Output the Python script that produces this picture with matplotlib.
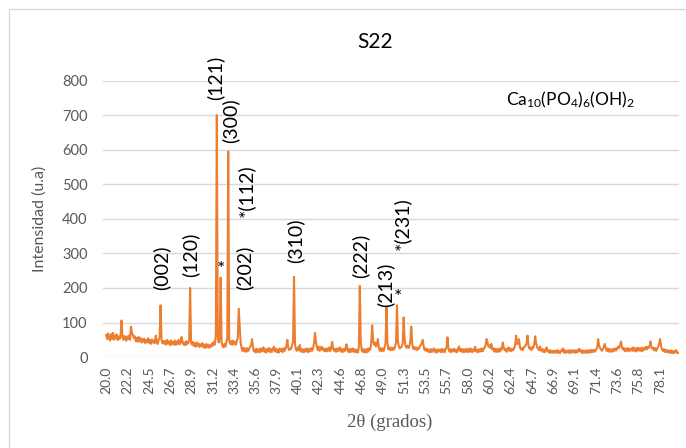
import numpy as np
import matplotlib
matplotlib.use("Agg")
import matplotlib.pyplot as plt
from matplotlib.patches import Rectangle

plt.rcParams['font.family'] = ['Lato', 'DejaVu Sans']
plt.rcParams['mathtext.fontset'] = 'custom'
plt.rcParams['mathtext.rm'] = 'Lato'
plt.rcParams['mathtext.it'] = 'Lato'
plt.rcParams['mathtext.bf'] = 'Lato'

# scan: 20.0 -> 80.0 deg, step 0.1 ; one row per degree (x.0 .. x.9)
start_2theta = 20.0
step_2theta = 0.1
counts = [
    64, 52, 68, 55, 48, 66, 53, 70, 50, 62,      # 20
    54, 66, 49, 60, 52, 63, 106, 58, 50, 61,     # 21
    55, 47, 60, 52, 62, 50, 88, 70, 64, 55,      # 22
    60, 46, 56, 44, 58, 47, 55, 42, 52, 45,      # 23
    53, 40, 50, 43, 55, 41, 49, 38, 51, 42,      # 24
    48, 40, 62, 44, 38, 50, 58, 150, 50, 40,     # 25
    46, 38, 47, 36, 50, 39, 45, 34, 48, 37,      # 26
    44, 36, 48, 35, 45, 38, 50, 37, 42, 58,      # 27
    45, 36, 42, 34, 46, 38, 40, 52, 200, 42,     # 28
    36, 44, 32, 40, 30, 42, 33, 39, 29, 37,      # 29
    32, 40, 28, 35, 26, 38, 29, 36, 27, 34,      # 30
    30, 40, 33, 44, 36, 68, 700, 55, 42, 55,     # 31
    230, 42, 32, 28, 38, 30, 42, 55, 595, 48,    # 32
    38, 46, 35, 48, 38, 44, 36, 48, 55, 140,     # 33
    90, 42, 26, 18, 27, 16, 25, 15, 26, 18,      # 34
    24, 30, 35, 52, 28, 16, 22, 13, 24, 15,      # 35
    22, 14, 25, 16, 21, 28, 15, 22, 13, 24,      # 36
    17, 26, 14, 23, 15, 25, 30, 16, 24, 14,      # 37
    22, 13, 25, 17, 23, 14, 26, 18, 24, 32,      # 38
    50, 26, 20, 25, 24, 35, 45, 232, 38, 22,     # 39
    18, 27, 20, 35, 16, 24, 14, 22, 15, 24,      # 40
    16, 25, 14, 23, 17, 26, 18, 26, 40, 70,      # 41
    45, 28, 20, 30, 18, 27, 30, 20, 25, 17,      # 42
    24, 16, 25, 18, 28, 17, 26, 44, 25, 18,      # 43
    24, 15, 25, 17, 23, 28, 16, 24, 14, 23,      # 44
    17, 26, 37, 20, 15, 24, 14, 23, 16, 25,      # 45
    15, 22, 14, 21, 13, 30, 206, 45, 20, 15,     # 46
    23, 14, 22, 13, 24, 16, 25, 22, 40, 92,      # 47
    45, 36, 42, 30, 38, 52, 28, 18, 26, 17,      # 48
    25, 18, 28, 40, 146, 40, 22, 28, 20, 27,     # 49
    20, 27, 22, 30, 42, 150, 45, 30, 25, 28,     # 50
    30, 40, 115, 50, 32, 27, 33, 26, 32, 45,     # 51
    88, 38, 24, 29, 22, 28, 20, 27, 24, 32,      # 52
    35, 40, 50, 30, 20, 25, 17, 23, 15, 22,      # 53
    14, 23, 15, 22, 25, 14, 21, 13, 22, 17,      # 54
    22, 14, 24, 15, 22, 14, 24, 28, 57, 23,      # 55
    16, 23, 14, 22, 17, 24, 15, 22, 14, 23,      # 56
    31, 18, 24, 15, 23, 14, 22, 15, 24, 16,      # 57
    14, 25, 16, 24, 14, 22, 17, 30, 18, 14,      # 58
    22, 15, 23, 16, 25, 17, 24, 27, 35, 52,      # 59
    42, 30, 34, 26, 38, 22, 26, 16, 24, 15,      # 60
    23, 15, 24, 16, 26, 22, 42, 28, 20, 24,      # 61
    15, 24, 28, 18, 25, 17, 24, 20, 26, 35,      # 62
    62, 38, 40, 52, 28, 22, 26, 20, 28, 30,      # 63
    34, 40, 62, 32, 24, 28, 20, 29, 26, 38,      # 64
    60, 40, 28, 24, 20, 31, 19, 24, 15, 22,      # 65
    14, 20, 28, 16, 19, 12, 20, 13, 18, 12,      # 66
    18, 13, 19, 12, 20, 14, 11, 19, 17, 25,      # 67
    13, 20, 12, 18, 14, 20, 11, 19, 13, 20,      # 68
    14, 19, 12, 20, 13, 18, 24, 16, 20, 12,      # 69
    19, 12, 18, 13, 20, 12, 19, 13, 21, 14,      # 70
    20, 15, 21, 16, 23, 26, 52, 35, 26, 22,      # 71
    18, 24, 30, 38, 24, 18, 25, 16, 23, 15,      # 72
    22, 16, 24, 18, 25, 19, 26, 30, 26, 35,      # 73
    45, 28, 22, 26, 17, 24, 18, 26, 17, 24,      # 74
    19, 25, 18, 28, 18, 25, 16, 27, 19, 26,      # 75
    18, 26, 17, 27, 20, 25, 29, 22, 30, 26,      # 76
    32, 45, 28, 24, 27, 19, 26, 18, 25, 30,      # 77
    38, 52, 32, 22, 18, 23, 15, 21, 14, 20,      # 78
    13, 18, 12, 19, 11, 17, 12, 18, 20, 12,      # 79
    12,                                          # 80
]

tick_labels = ['20.0', '22.2', '24.5', '26.7', '28.9', '31.2', '33.4', '35.6',
               '37.9', '40.1', '42.3', '44.6', '46.8', '49.0', '51.3', '53.5',
               '55.7', '58.0', '60.2', '62.4', '64.7', '66.9', '69.1', '71.4',
               '73.6', '75.8', '78.1']

# peak labels: text, 2theta of the label, intensity at the label's lower end
peak_labels = ['(002)', '(120)', '(121)', '(300)', '(202)', '*(112)',
               '(310)', '(222)', '(213)', '*(231)']
peak_label_x = [25.77, 28.8, 31.4, 33.05, 34.5, 34.68, 39.85, 46.7, 49.3, 51.05]
peak_label_y = [194, 232, 745, 620, 194, 406, 272, 229, 145, 310]
star_x = [32.05, 50.55]
star_y = [252, 172]

orange = '#ED7D31'
grey = '#595959'

x = start_2theta + step_2theta * np.arange(len(counts))
y = np.array(counts)

fig = plt.figure(figsize=(6.86, 4.48), dpi=100)
ax = fig.add_axes([0.150, 0.203, 0.840, 0.617])

fig.patches.append(Rectangle((9 / 686, -0.05), 1.2, (448 - 9) / 448 + 0.05,
                             transform=fig.transFigure, fill=False,
                             edgecolor='#D9D9D9', lw=1.0))

ax.plot(x, y, color=orange, lw=1.5)

ax.set_xlim(19.65, 80.1)
ax.set_ylim(0, 800)
ax.set_yticks(range(0, 801, 100))
ax.set_xticks([float(t) for t in tick_labels])
ax.set_xticklabels(tick_labels, rotation=90)
ax.tick_params(axis='both', length=0, colors=grey, labelsize=10)
ax.tick_params(axis='x', pad=7)
ax.tick_params(axis='y', pad=11, labelsize=10.5)
ax.grid(axis='y', color='#D9D9D9', lw=1.0)
ax.set_axisbelow(True)
for s in ax.spines.values():
    s.set_visible(False)

for lab, px, py in zip(peak_labels, peak_label_x, peak_label_y):
    ax.text(px, py, lab, rotation=90, ha='center', va='bottom', fontsize=14,
            color='black')
for px, py in zip(star_x, star_y):
    ax.text(px, py, '*', ha='center', va='center', fontsize=14, color='black')

ax.text(61.9, 745, r'Ca$_{10}$(PO$_4$)$_6$(OH)$_2$', ha='left', va='center',
        fontsize=12.5, color='black')

ax.set_ylabel('Intensidad (u.a)', fontsize=11.5, color=grey)
ax.yaxis.set_label_coords(-0.098, 0.5)
fig.text(390 / 686, 1 - 422 / 448, '2θ (grados)', family='Liberation Serif',
         fontsize=13.5, color=grey, ha='center', va='center')
fig.text(375 / 686, 1 - 42 / 448, 'S22', fontsize=15, color='black',
         ha='center', va='center')

fig.savefig('out.png', dpi=100)
